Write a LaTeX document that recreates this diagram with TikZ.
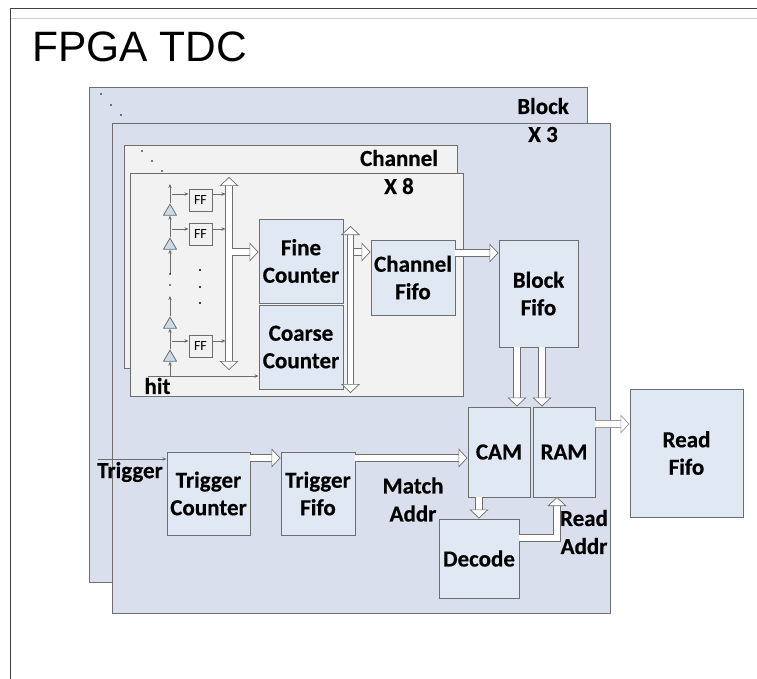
\documentclass[tikz,border=0pt]{standalone}
\usepackage{fontspec}
\setmainfont{Carlito}[BoldFont=Carlito Bold,BoldFeatures={FakeBold=.4}]
\newfontfamily\titlefont{Liberation Sans}
\usetikzlibrary{arrows.meta,shapes.geometric}
\definecolor{blockfill}{HTML}{D9DFED}
\definecolor{chanfill}{HTML}{F2F2F2}
\definecolor{unitfill}{HTML}{DFE8F3}
\definecolor{edgegray}{HTML}{6E6E6E}
\definecolor{bufferfill}{HTML}{C9DCEC}
\tikzset{
   x=1pt, y=-1pt,
   panel/.style={draw=edgegray, line width=1pt, inner sep=0pt},
   unit/.style={draw=edgegray, fill=unitfill, line width=1pt, inner sep=0pt, align=center, font=\fontsize{23}{27.5}\selectfont\bfseries},
   ffbox/.style={draw=edgegray, fill=chanfill, line width=.9pt, inner sep=0pt, minimum width=23pt, minimum height=22pt, font=\fontsize{14}{14}\selectfont},
   buffer/.style={isosceles triangle, isosceles triangle apex angle=60, isosceles triangle stretches, shape border rotate=90, draw=edgegray, fill=bufferfill, line width=.8pt, inner sep=0pt, minimum width=13pt, minimum height=11pt},
   tag/.style={align=center, inner sep=0pt, font=\fontsize{23}{28}\selectfont\bfseries},
   pin/.style={draw=edgegray, line width=.8pt, -{Stealth[length=4pt,width=3.5pt]}},
   bushead/.tip={Triangle[open, fill=white, length=9pt, width=19pt, line width=.7pt]},
   bus/.style={draw=edgegray, line width=.8pt, double=white, double distance=5.5pt, -bushead},
   busboth/.style={bus, bushead-bushead},
   spot/.style={circle, fill=black, inner sep=0pt, minimum size=1.8pt}
}
\begin{document}
\begin{tikzpicture}
\useasboundingbox (0,0) rectangle (757,679);
% frame and title
\draw[gray!35, line width=.8pt] (10,18) -- (757,18);
\draw[black!75, line width=.9pt] (10,679) -- (10,8) -- (757,8);
\node[anchor=base west, inner sep=0pt, font=\titlefont\fontsize{42.5}{42.5}\selectfont] (title) at (32,61.5) {FPGA TDC};

% stacked panels
\node[panel, fill=blockfill, minimum width=498pt, minimum height=494pt] (blockback) at (338,335) {};
\foreach \px/\py in {101/94,111/105,121/115} {\node[spot] (bdot\px) at (\px,\py) {};}
\node[panel, fill=blockfill, minimum width=498pt, minimum height=489pt] (blockfront) at (361,368.5) {};
\node[panel, fill=chanfill, minimum width=333pt, minimum height=222pt] (chanback) at (290.5,257) {};
\foreach \px/\py in {142/151,152/161,162/171} {\node[spot] (cdot\px) at (\px,\py) {};}
\node[panel, fill=chanfill, minimum width=333pt, minimum height=222pt] (chanfront) at (296.5,285) {};

\node[tag] (blocktag) at (543,120) {Block\\X 3};
\node[tag] (chantag) at (399,172) {Channel\\X 8};

% units
\node[unit, minimum width=84pt, minimum height=84pt] (fine) at (301,261) {Fine\\Counter};
\node[unit, minimum width=84pt, minimum height=84pt] (coarse) at (301,347) {Coarse\\Counter};
\node[unit, minimum width=84pt, minimum height=75pt] (chanfifo) at (413,277.5) {Channel\\Fifo};
\node[unit, minimum width=79pt, minimum height=107pt] (blockfifo) at (538.5,293.5) {Block\\Fifo};
\node[unit, minimum width=62pt, minimum height=90pt] (cam) at (499,452) {CAM};
\node[unit, minimum width=62pt, minimum height=90pt] (ram) at (564,452) {RAM};
\node[unit, minimum width=80pt, minimum height=79pt] (decode) at (479,558.5) {Decode};
\node[unit, minimum width=113pt, minimum height=128pt] (readfifo) at (686.5,453) {Read\\Fifo};
\node[unit, minimum width=83pt, minimum height=83pt] (trigcount) at (208.5,493.5) {Trigger\\Counter};
\node[unit, minimum width=74pt, minimum height=83pt] (trigfifo) at (318,493.5) {Trigger\\Fifo};

% delay line
\foreach \n/\yy in {1/357.5,2/324.5,3/245.5,4/211.5} {
    \node[buffer] (buf\n) at (170,\yy) {};
}
\coordinate (linetop) at (170,184);
\coordinate (hitin) at (148,376);
\coordinate (hitup) at (170,376);
\coordinate (gaplow) at (170,296);
\coordinate (gaphigh) at (170,274);
\draw[pin] (hitup) -- (buf1.south);
\draw[pin] (buf1.north) -- (buf2.south);
\draw[pin] (buf2.north) -- (gaplow);
\draw[pin] (gaphigh) -- (buf3.south);
\draw[pin] (buf3.north) -- (buf4.south);
\draw[pin] (buf4.north) -- (linetop);
\node[spot, minimum size=1.6pt] (linedot) at (170,285) {};
\node[spot, minimum size=1.6pt] (linedota) at (gaphigh) {};
\draw[draw=edgegray, line width=.8pt, -{Stealth[length=4pt,width=3.5pt]}] (hitin) -- (coarse.west |- hitin);

% data bus
\coordinate (bustop) at (229,177);
\coordinate (busbot) at (229,370);
\coordinate (fastop) at (350.5,226);
\coordinate (fasbot) at (350.5,393);

\foreach \n/\yy/\ff in {1/200.5/194,2/234/229,3/346/341} {
    \node[ffbox] (ff\n) at (200.5,\yy) {FF};
    \coordinate (tap\n) at (172,\ff);
    \coordinate (busin\n) at (225.5,\ff);
    \draw[pin] (tap\n) -- (ff\n.west |- tap\n);
    \draw[pin] (ff\n.east |- tap\n) -- (busin\n);
}
\foreach \px/\py in {200/270,200/287,200/303} {\node[spot, minimum size=2.2pt] (fdot\py) at (\px,\py) {};}

\draw[busboth] (bustop) -- (busbot);
\draw[busboth] (fastop) -- (fasbot);
\coordinate (busout) at (232,252);
\coordinate (fasout) at (354,252);
\draw[bus] (busout) -- (fine.west |- busout);
\draw[bus] (fasout) -- (chanfifo.west |- fasout);
\coordinate (chanout) at (455,253);
\draw[bus] (chanout) -- (blockfifo.west |- chanout);
\coordinate (camin) at (517,347);
\coordinate (ramin) at (542,347);
\draw[bus] (camin) -- (camin |- cam.north);
\draw[bus] (ramin) -- (ramin |- ram.north);
\coordinate (ramout) at (595,424);
\draw[bus, draw=edgegray!70] (ramout) -- (readfifo.west |- ramout);
\coordinate (trigout) at (250,458);
\draw[bus] (trigout) -- (trigfifo.west |- trigout);
\coordinate (matchout) at (355,458);
\draw[bus] (matchout) -- (cam.west |- matchout);
\coordinate (decin) at (479,497);
\draw[bus] (decin) -- (decode.north);
\coordinate (decout) at (519,538);
\coordinate (addrin) at (557,497);
\draw[bus] (decout) -| (addrin);

% trigger in
\coordinate (trigin) at (98,459);
\draw[pin] (trigin) -- (trigcount.west |- trigin);

% labels
\node[tag] (hitlabel) at (157.5,386) {hit};
\node[tag] (triglabel) at (130,472) {Trigger};
\node[tag] (matchlabel) at (413,499.5) {Match\\Addr};
\node[tag] (readlabel) at (584,532) {Read\\Addr};
\end{tikzpicture}
\end{document}
